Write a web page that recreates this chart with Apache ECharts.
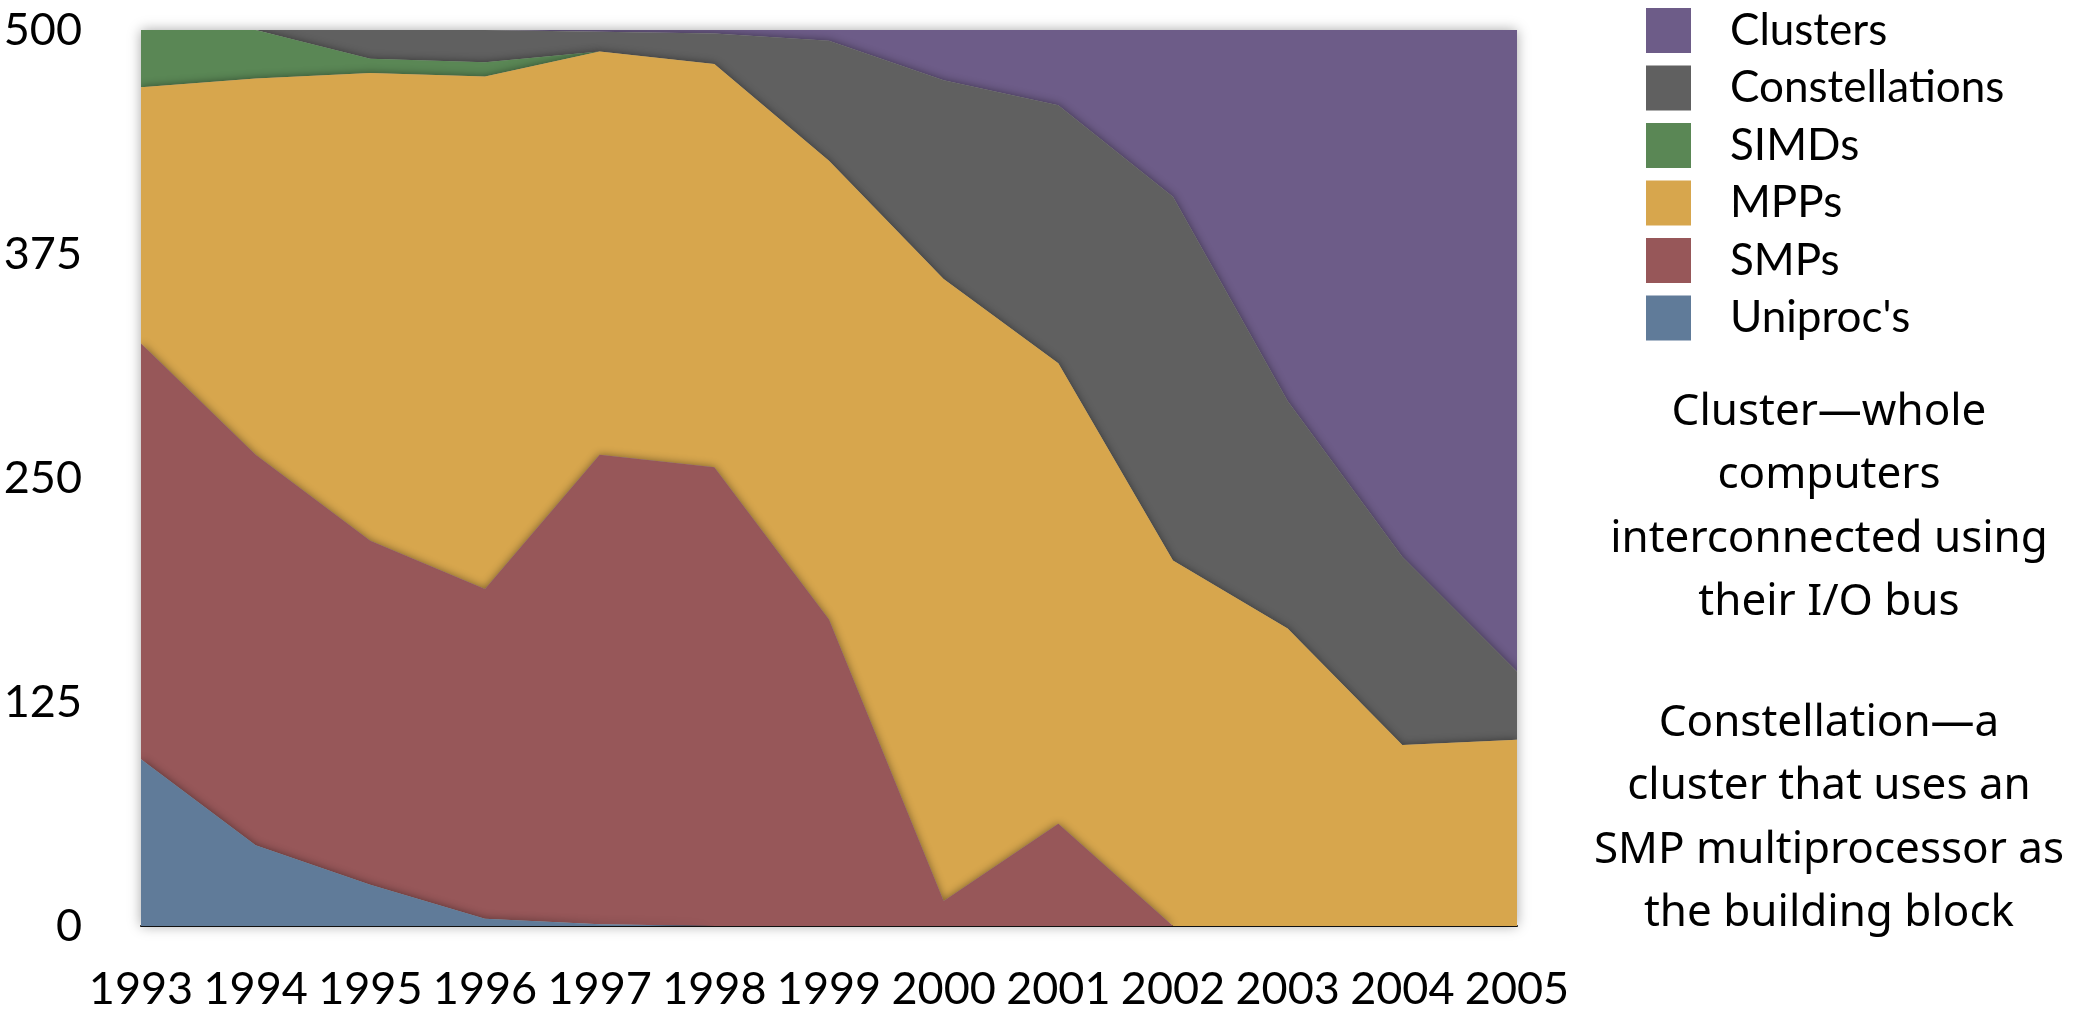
<!DOCTYPE html>
<html>
<head>
<meta charset="utf-8">
<title>Top500 architectures 1993–2005</title>
<script src="https://cdn.jsdelivr.net/npm/echarts@6/dist/echarts.min.js"></script>
<style>
  html, body { margin: 0; padding: 0; background: #ffffff; }
  #chart { width: 2074px; height: 1012px; }
</style>
</head>
<body>
<div id="chart"></div>
<script>
// Systems in the Top500 list by architecture class
const years = ['1993', '1994', '1995', '1996', '1997', '1998', '1999',
               '2000', '2001', '2002', '2003', '2004', '2005'];

const uniprocs       = [93, 45, 23, 4, 1, 0, 0, 0, 0, 0, 0, 0, 0];
const smps           = [232, 218, 192, 184, 262, 256, 171, 14, 57, 0, 0, 0, 0];
const mpps           = [143, 210, 261, 286, 225, 225, 256, 347, 257, 204, 166, 101, 104];
const simds          = [32, 27, 8, 8, 0, 0, 0, 0, 0, 0, 0, 0, 0];
const constellations = [0, 0, 16, 18, 11, 17, 67, 111, 144, 203, 127, 105, 38];
const clusters       = [0, 0, 0, 0, 1, 2, 6, 28, 42, 93, 207, 294, 358];

const yTicks = [0, 125, 250, 375, 500];

const noteCluster = ['Cluster\u2014whole', 'computers', 'interconnected using', 'their I/O bus'];
const noteConstellation = ['Constellation\u2014a', 'cluster that uses an', 'SMP multiprocessor as', 'the building block'];

// bottom-to-top stacking order
const layers = [
  { name: "Uniproc's",      data: uniprocs,       color: '#607b99' },
  { name: 'SMPs',           data: smps,           color: '#975759' },
  { name: 'MPPs',           data: mpps,           color: '#d7a64d' },
  { name: 'SIMDs',          data: simds,          color: '#5a8755' },
  { name: 'Constellations', data: constellations, color: '#606060' },
  { name: 'Clusters',       data: clusters,       color: '#6d5c88' }
];

const axisFont = 'Lato, "Open Sans", sans-serif';
const noteFont = '"Noto Sans", "Open Sans", sans-serif';

const series = layers.map((l, i) => ({
  name: l.name,
  type: 'line',
  stack: 'total',
  data: l.data,
  symbol: 'none',
  smooth: false,
  clip: true,
  // lower layers sit above upper ones so their soft edge falls on the layer above
  z: 10 - i,
  color: l.color,
  lineStyle: { width: 0 },
  areaStyle: {
    color: l.color,
    opacity: 1,
    shadowBlur: 9,
    shadowColor: 'rgba(0,0,0,0.45)'
  },
  emphasis: { disabled: true }
}));

// side notes, one text element per line
const graphics = [];
const noteX = 1829;
const noteLineGap = 63.5;
const noteStyle = t => ({ text: t, font: '44px ' + noteFont, fill: '#000',
                          textAlign: 'center', textVerticalAlign: 'middle' });
noteCluster.forEach((t, k) => graphics.push({
  type: 'text', x: noteX, y: 412 + k * noteLineGap, silent: true, style: noteStyle(t)
}));
noteConstellation.forEach((t, k) => graphics.push({
  type: 'text', x: noteX, y: 723 + k * noteLineGap, silent: true, style: noteStyle(t)
}));

const chart = echarts.init(document.getElementById('chart'), null, { renderer: 'canvas' });
chart.setOption({
  animation: false,
  backgroundColor: '#ffffff',
  grid: {
    left: 141, right: 557, top: 30, bottom: 83,
    show: true,
    borderWidth: 0,
    backgroundColor: '#ffffff',
    shadowBlur: 12,
    shadowColor: 'rgba(0,0,0,0.35)'
  },
  legend: {
    orient: 'vertical',
    left: 1646,
    top: 8,
    padding: 0,
    itemWidth: 45,
    itemHeight: 45,
    itemGap: 12.5,
    selectedMode: false,
    icon: 'rect',
    data: layers.slice().reverse().map(l => ({
      name: l.name, icon: 'rect', itemStyle: { color: l.color }
    })),
    textStyle: {
      fontFamily: axisFont,
      fontSize: 44,
      color: '#000',
      padding: [0, 0, 0, 34]
    }
  },
  xAxis: {
    type: 'category',
    data: years,
    boundaryGap: false,
    axisLine: { show: true, lineStyle: { color: '#111', width: 2 } },
    axisTick: { show: false },
    splitLine: { show: false },
    axisLabel: {
      fontFamily: axisFont, fontSize: 45, color: '#000', margin: 41,
      interval: 0
    }
  },
  yAxis: {
    type: 'value',
    min: yTicks[0],
    max: yTicks[yTicks.length - 1],
    interval: yTicks[1] - yTicks[0],
    axisLine: { show: false },
    axisTick: { show: false },
    splitLine: { show: false },
    axisLabel: {
      fontFamily: axisFont, fontSize: 45, color: '#000', margin: 59
    }
  },
  series: series,
  graphic: graphics
});
</script>
</body>
</html>
